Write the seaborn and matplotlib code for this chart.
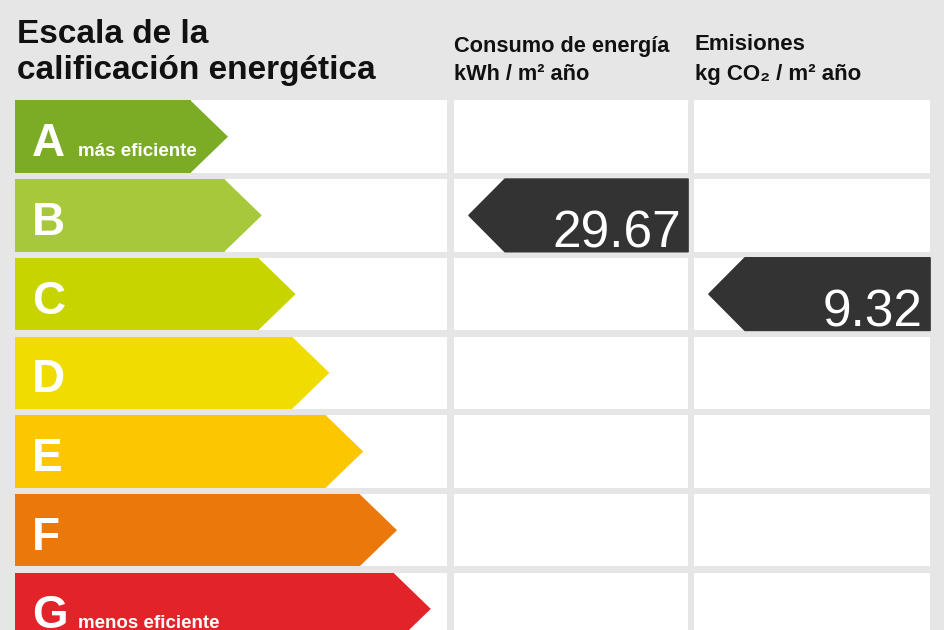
import seaborn as sns
import numpy as np
import matplotlib.pyplot as plt
from matplotlib.patches import Polygon

# energy classes and their colours
classes = ['A', 'B', 'C', 'D', 'E', 'F', 'G']
class_colors = ['#7cab26', '#a6c83a', '#c8d400', '#f0dc00', '#fcc700', '#ea780a', '#e2232a']
class_notes = {'A': 'más eficiente', 'G': 'menos eficiente'}

# rating of the building
energy_value = 29.67
energy_class = 'B'
emission_value = 9.32
emission_class = 'C'

title_lines = ['Escala de la', 'calificación energética']
energy_header = ['Consumo de energía', 'kWh / m² año']
emission_header = ['Emisiones', 'kg CO₂ / m² año']

# layout (pixel units on a 945x630 canvas)
ROW0, PITCH = 136.7, 78.7
BAR_H = 72.5 / PITCH
X0, TIP0, STEP, TIP = 15, 228, 33.8, 37
columns = [(15, 447), (454, 688), (694, 930)]
BG = '#e6e6e6'
DARK = '#333333'


def py(p):
    return (p - ROW0) / PITCH


sns.set_theme(style='white')
plt.rcParams['font.family'] = ['Liberation Sans', 'DejaVu Sans']

fig = plt.figure(figsize=(9.45, 6.3), dpi=100, facecolor=BG)
ax = fig.add_axes([0, 0, 1, 1])

body_end = [TIP0 + STEP * i - TIP for i in range(len(classes))]
sns.barplot(x=body_end, y=classes, hue=classes, palette=class_colors, saturation=1,
            width=BAR_H, legend=False, orient='h', linewidth=0, zorder=3, ax=ax)

# bars start at the left margin, then add the arrow tip
for p in ax.patches:
    right = p.get_x() + p.get_width()
    p.set_x(X0)
    p.set_width(right - X0)
    y0, h = p.get_y(), p.get_height()
    ax.add_patch(Polygon([(right - 0.5, y0), (right + TIP, y0 + h / 2), (right - 0.5, y0 + h)],
                         closed=True, facecolor=p.get_facecolor(), edgecolor='none', zorder=3))

# white table cells
rows = np.arange(len(classes))
for left, right in columns:
    ax.barh(rows, right - left, left=left, height=BAR_H, color='white', linewidth=0, zorder=1)

# class letters and notes
for i, c in enumerate(classes):
    base = py(ROW0 + PITCH * i + 19.5)
    ax.text(32, base, c, color='white', fontsize=33, fontweight='bold', va='baseline', zorder=4)
    if c in class_notes:
        ax.text(78, base, class_notes[c], color='white', fontsize=13.5, fontweight='bold',
                va='baseline', zorder=4)


def indicator(col, cls, value):
    left, right = columns[col]
    i = classes.index(cls)
    tip = left + 15
    top, bot = i - BAR_H / 2, i + BAR_H / 2
    ax.add_patch(Polygon([(right, top), (tip + 36, top), (tip, i), (tip + 36, bot), (right, bot)],
                         closed=True, facecolor=DARK, edgecolor=DARK, linewidth=1.2,
                         joinstyle='round', zorder=4))
    ax.text(right - 7, py(ROW0 + PITCH * i + 32), f'{value:.2f}', color='white', fontsize=37,
            ha='right', va='baseline', zorder=5)


indicator(1, energy_class, energy_value)
indicator(2, emission_class, emission_value)

# headers
ax.text(17, py(43), title_lines[0], fontsize=24, fontweight='bold', va='baseline', color='#111111')
ax.text(17, py(79), title_lines[1], fontsize=24, fontweight='bold', va='baseline', color='#111111')
ax.text(454, py(52), energy_header[0], fontsize=15.7, fontweight='bold', va='baseline', color='#111111')
ax.text(454, py(80), energy_header[1], fontsize=15.7, fontweight='bold', va='baseline', color='#111111')
ax.text(695, py(50), emission_header[0], fontsize=16, fontweight='bold', va='baseline', color='#111111')
ax.text(695, py(80), emission_header[1], fontsize=16, fontweight='bold', va='baseline', color='#111111')

ax.set_xlim(0, 945)
ax.set_ylim(py(630), py(0))
ax.set_axis_off()

fig.savefig('out.png', dpi=100, facecolor=BG)
